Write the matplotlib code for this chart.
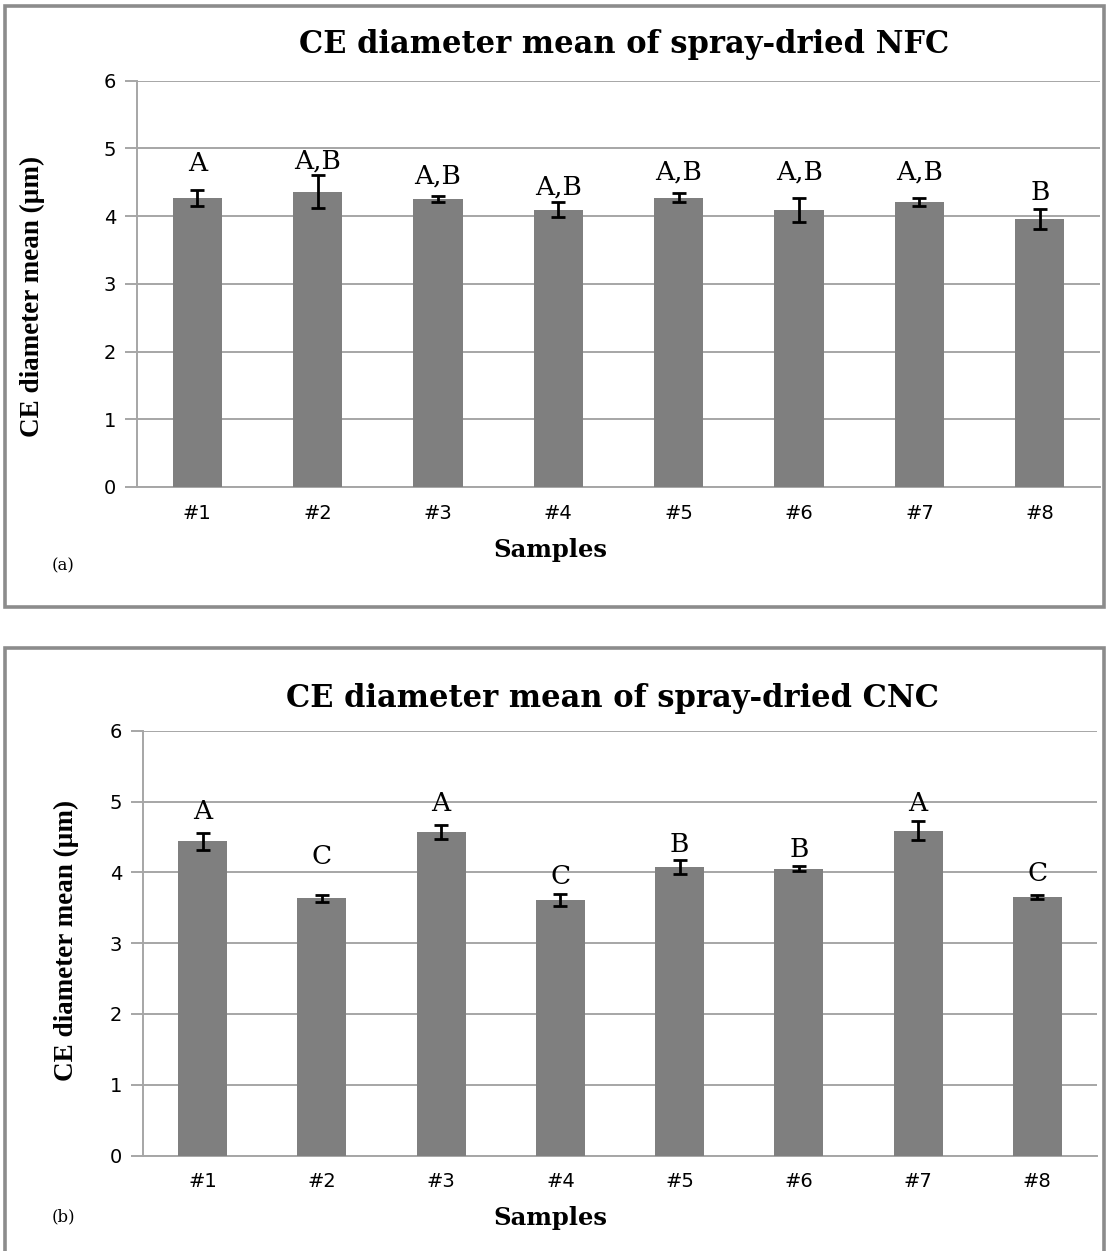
import matplotlib
matplotlib.use("Agg")
import matplotlib.pyplot as plt
from matplotlib.patches import Rectangle

# ---- data ----
samples = ["#1", "#2", "#3", "#4", "#5", "#6", "#7", "#8"]
nfc_mean = [4.27, 4.36, 4.25, 4.09, 4.27, 4.09, 4.21, 3.96]
nfc_err = [0.12, 0.24, 0.05, 0.11, 0.07, 0.18, 0.06, 0.15]
nfc_groups = ["A", "A,B", "A,B", "A,B", "A,B", "A,B", "A,B", "B"]
cnc_mean = [4.44, 3.63, 4.57, 3.61, 4.07, 4.05, 4.59, 3.65]
cnc_err = [0.12, 0.05, 0.10, 0.08, 0.10, 0.035, 0.13, 0.03]
cnc_groups = ["A", "C", "A", "C", "B", "B", "A", "C"]
yticks = [0, 1, 2, 3, 4, 5, 6]
title_nfc = "CE diameter mean of spray-dried NFC"
title_cnc = "CE diameter mean of spray-dried CNC"
ylabel = "CE diameter mean (µm)"
xlabel = "Samples"

W, H = 1108, 1251
fig = plt.figure(figsize=(W / 100, H / 100), dpi=100)

BAR = "#7f7f7f"
GRID = "#a6a6a6"
FRAME = "#8c8c8c"
serif = ["Liberation Serif", "DejaVu Serif"]
wserif = ["DejaVu Serif"]
sans = ["DejaVu Sans"]


def px(x0, y0, x1, y1):
    """pixel box (top-left origin) -> figure fraction [l, b, w, h]"""
    return [x0 / W, 1 - y1 / H, (x1 - x0) / W, (y1 - y0) / H]


def frame(y0, y1):
    r = Rectangle((5 / W, 1 - y1 / H), 1099 / W, (y1 - y0) / H,
                  transform=fig.transFigure, fill=False, ec=FRAME, lw=2.6,
                  clip_on=False)
    fig.add_artist(r)


def panel(box, means, errs, groups, title, lifts, tag, ylab_xy, title_xy, xl_y, tag_xy):
    ax = fig.add_axes(px(*box))
    x = list(range(len(samples)))
    ax.bar(x, means, width=0.41, color=BAR, zorder=3)
    ax.errorbar(x, means, yerr=errs, fmt="none", ecolor="black", elinewidth=2,
                capsize=4.7, capthick=2, zorder=4)
    for xi, m, e, g, l in zip(x, means, errs, groups, lifts):
        ax.text(xi, m + e + l, g, ha="center", va="bottom", fontsize=19,
                family=wserif, zorder=5)
    ax.set_xlim(-0.5, len(samples) - 0.5)
    ax.set_ylim(0, 6)
    ax.set_yticks(yticks)
    ax.set_xticks(x)
    ax.set_xticklabels(samples, family=sans, fontsize=14)
    ax.set_yticklabels([str(t) for t in yticks], family=sans, fontsize=14)
    ax.grid(axis="y", color=GRID, lw=1.4, zorder=0)
    for s in ["top", "right"]:
        ax.spines[s].set_visible(False)
    for s in ["left", "bottom"]:
        ax.spines[s].set_color(GRID)
        ax.spines[s].set_linewidth(1.4)
    ax.tick_params(axis="y", length=9, width=1.4, color=GRID, pad=6)
    ax.tick_params(axis="x", length=0, pad=12)
    fig.text(title_xy[0] / W, 1 - title_xy[1] / H, title, ha="center",
             va="baseline", fontsize=22, fontweight="bold", family=wserif)
    fig.text(ylab_xy[0] / W, 1 - ylab_xy[1] / H, ylabel, rotation=90,
             ha="center", va="center", fontsize=19.5, fontweight="bold", family=serif)
    fig.text(550 / W, 1 - xl_y / H, xlabel, ha="center", va="baseline",
             fontsize=17.5, fontweight="bold", family=wserif)
    fig.text(tag_xy[0] / W, 1 - tag_xy[1] / H, tag, ha="left", va="baseline",
             fontsize=12, family=wserif)
    return ax


frame(6, 607)
frame(648, 1262)

panel((137, 80.5, 1100, 487), nfc_mean, nfc_err, nfc_groups, title_nfc,
      [0.20, 0.02, 0.10, 0.04, 0.12, 0.20, 0.20, 0.05], "(a)",
      ylab_xy=(32, 296), title_xy=(624, 53), xl_y=557, tag_xy=(52, 570))
panel((143, 730.7, 1097, 1155.5), cnc_mean, cnc_err, cnc_groups, title_cnc,
      [0.12, 0.37, 0.13, 0.08, 0.05, 0.06, 0.08, 0.12], "(b)",
      ylab_xy=(66, 940), title_xy=(612, 707), xl_y=1225, tag_xy=(52, 1221))

fig.savefig("out.png", dpi=100)
